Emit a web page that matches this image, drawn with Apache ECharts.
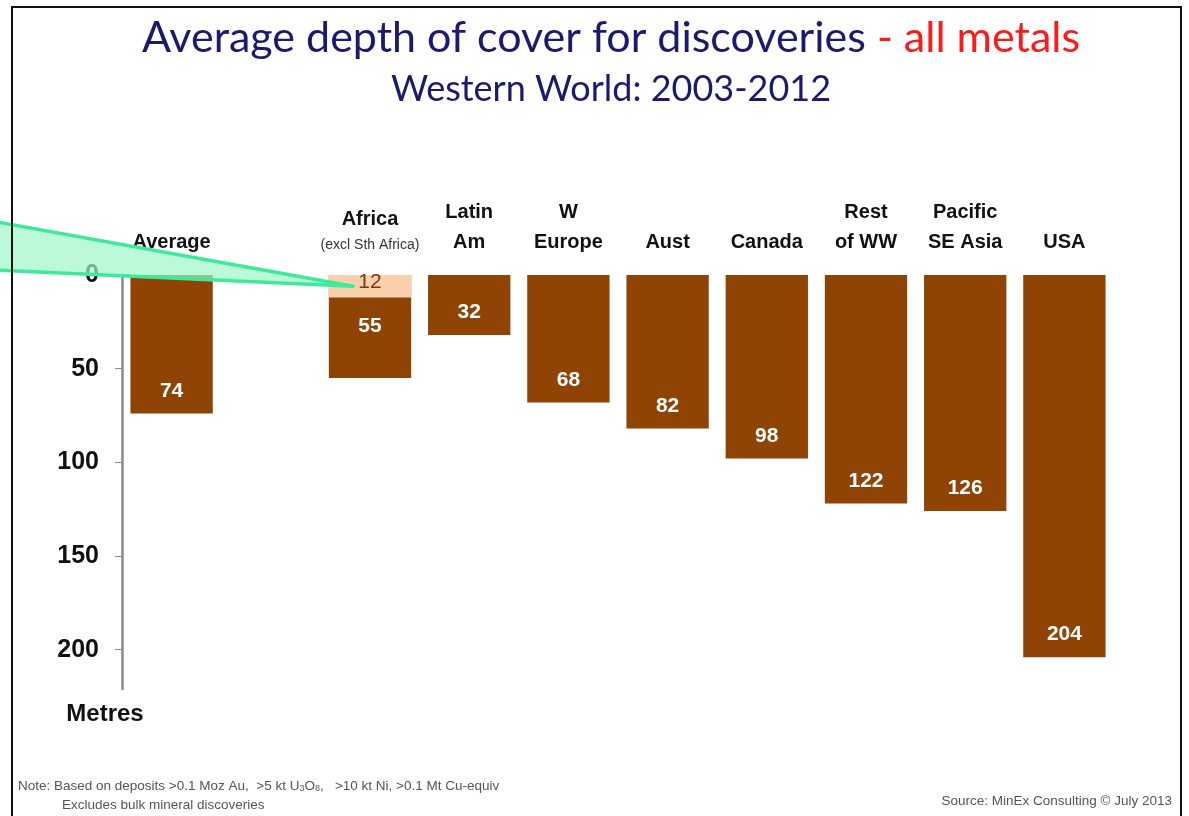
<!DOCTYPE html>
<html>
<head>
<meta charset="utf-8">
<script src="https://cdn.jsdelivr.net/npm/echarts@6/dist/echarts.min.js"></script>
<style>
html,body{margin:0;padding:0;background:#fff;}
#c{width:1189px;height:816px;}
</style>
</head>
<body>
<div id="c"></div>
<script>
// ---- data ----
const categories = ['Average', '', 'Africa', 'Latin Am', 'W Europe', 'Aust', 'Canada', 'Rest of WW', 'Pacific SE Asia', 'USA'];
const categoryLabels = ['Average', '', '{b|Africa}\n{s|(excl Sth Africa)}', 'Latin\nAm', 'W\nEurope', 'Aust', 'Canada', 'Rest\nof WW', 'Pacific\nSE Asia', 'USA'];
const depthValues = [74, null, 55, 32, 68, 82, 98, 122, 126, 204];
const africaCoverValues = [null, null, 12, null, null, null, null, null, null, null];
const yTicks = [0, 50, 100, 150, 200];

const chart = echarts.init(document.getElementById('c'), null, {renderer: 'canvas'});
const FONT = '"Liberation Sans", Arial, sans-serif';
const TFONT = 'Lato, "Open Sans", sans-serif';

const option = {
  animation: false,
  backgroundColor: '#ffffff',
  grid: {left: 122, right: 75, top: 275, height: 414, containLabel: false},
  xAxis: {
    type: 'category',
    position: 'top',
    data: categories,
    axisLine: {show: false},
    axisTick: {show: false},
    axisLabel: {
      interval: 0,
      margin: 18,
      fontFamily: FONT,
      fontWeight: 'bold',
      fontSize: 20,
      lineHeight: 30,
      color: '#111',
      formatter: (v, i) => categoryLabels[i],
      rich: {
        b: {fontFamily: FONT, fontWeight: 'bold', fontSize: 20, lineHeight: 28, color: '#111'},
        s: {fontFamily: FONT, fontWeight: 'normal', fontSize: 14, lineHeight: 24, color: '#333'}
      }
    }
  },
  yAxis: {
    type: 'value',
    inverse: true,
    min: 0,
    max: 221,
    interval: 50,
    axisLine: {show: true, lineStyle: {color: '#8a8a8a', width: 2.5}},
    axisTick: {show: true, length: 7, customValues: yTicks, lineStyle: {color: '#8a8a8a', width: 1}},
    splitLine: {show: false},
    axisLabel: {
      margin: 23,
      customValues: yTicks,
      fontFamily: FONT,
      fontWeight: 'bold',
      fontSize: 25,
      color: '#111'
    }
  },
  series: [
    {
      type: 'bar',
      data: depthValues.map((v, i) => i === 2 ? {value: v, label: {position: 'insideTop', distance: 41}} : v),
      barWidth: '83%',
      itemStyle: {color: '#8F4305'},
      label: {
        show: true,
        position: 'insideBottom',
        distance: 12,
        fontFamily: FONT,
        fontWeight: 'bold',
        fontSize: 21,
        color: '#ffffff'
      }
    },
    {
      type: 'bar',
      data: africaCoverValues,
      barWidth: '83%',
      barGap: '-100%',
      itemStyle: {color: '#F9CFAD'},
      label: {
        show: true,
        position: 'inside',
        offset: [0, -4],
        fontFamily: FONT,
        fontSize: 21,
        color: '#7A3A08'
      }
    }
  ]
};
chart.setOption(option);

// annotation callout and slide decorations
const tip = chart.convertToPixel({gridIndex: 0}, ['Africa', 6]);
const band = chart.getModel().getComponent('xAxis', 0).axis.getBandWidth();
const tipX = tip[0] - band * 0.17;
const tipY = tip[1];

chart.setOption({
  graphic: [
    {
      type: 'text', x: 611, y: 38, z: 10,
      style: {
        text: '{n|Average depth of cover for discoveries }{r|- all metals}',
        align: 'center', verticalAlign: 'middle',
        rich: {
          n: {fontFamily: TFONT, fontSize: 43, fill: '#1C1A6E'},
          r: {fontFamily: TFONT, fontSize: 43, fill: '#FF1A1A'}
        }
      }
    },
    {
      type: 'text', x: 611, y: 89, z: 10,
      style: {text: 'Western World: 2003-2012', fontFamily: TFONT, fontSize: 36, fill: '#1C1A6E', align: 'center', verticalAlign: 'middle'}
    },
    {
      type: 'text', x: 105, y: 714, z: 10,
      style: {text: 'Metres', fontFamily: FONT, fontWeight: 'bold', fontSize: 24, fill: '#111', align: 'center', verticalAlign: 'middle'}
    },
    {
      type: 'text', x: 18, y: 786, z: 10,
      style: {
        text: '{t|Note: Based on deposits >0.1 Moz Au,  >5 kt U}{sub|3}{t|O}{sub|8}{t|,   >10 kt Ni, >0.1 Mt Cu-equiv}',
        verticalAlign: 'middle',
        rich: {
          t: {fontFamily: FONT, fontSize: 13.5, fill: '#555'},
          sub: {fontFamily: FONT, fontSize: 9, fill: '#555', padding: [6, 0, 0, 0]}
        }
      }
    },
    {
      type: 'text', x: 62, y: 805, z: 10,
      style: {text: 'Excludes bulk mineral discoveries', fontFamily: FONT, fontSize: 13.5, fill: '#555', verticalAlign: 'middle'}
    },
    {
      type: 'text', x: 1172, y: 801, z: 10,
      style: {text: 'Source: MinEx Consulting \u00A9 July 2013', fontFamily: FONT, fontSize: 13.5, fill: '#555', align: 'right', verticalAlign: 'middle'}
    },
    {
      type: 'polygon', z: 50,
      shape: {points: [[-3, 222], [tipX, tipY], [-3, 270]]},
      style: {fill: 'rgba(160,246,200,0.7)', stroke: '#3DEA9A', lineWidth: 3.5, lineJoin: 'round'}
    },
    {
      type: 'rect', z: 60,
      shape: {x: 12, y: 7, width: 1169, height: 830},
      style: {fill: null, stroke: '#111', lineWidth: 2}
    }
  ]
});
</script>
</body>
</html>
